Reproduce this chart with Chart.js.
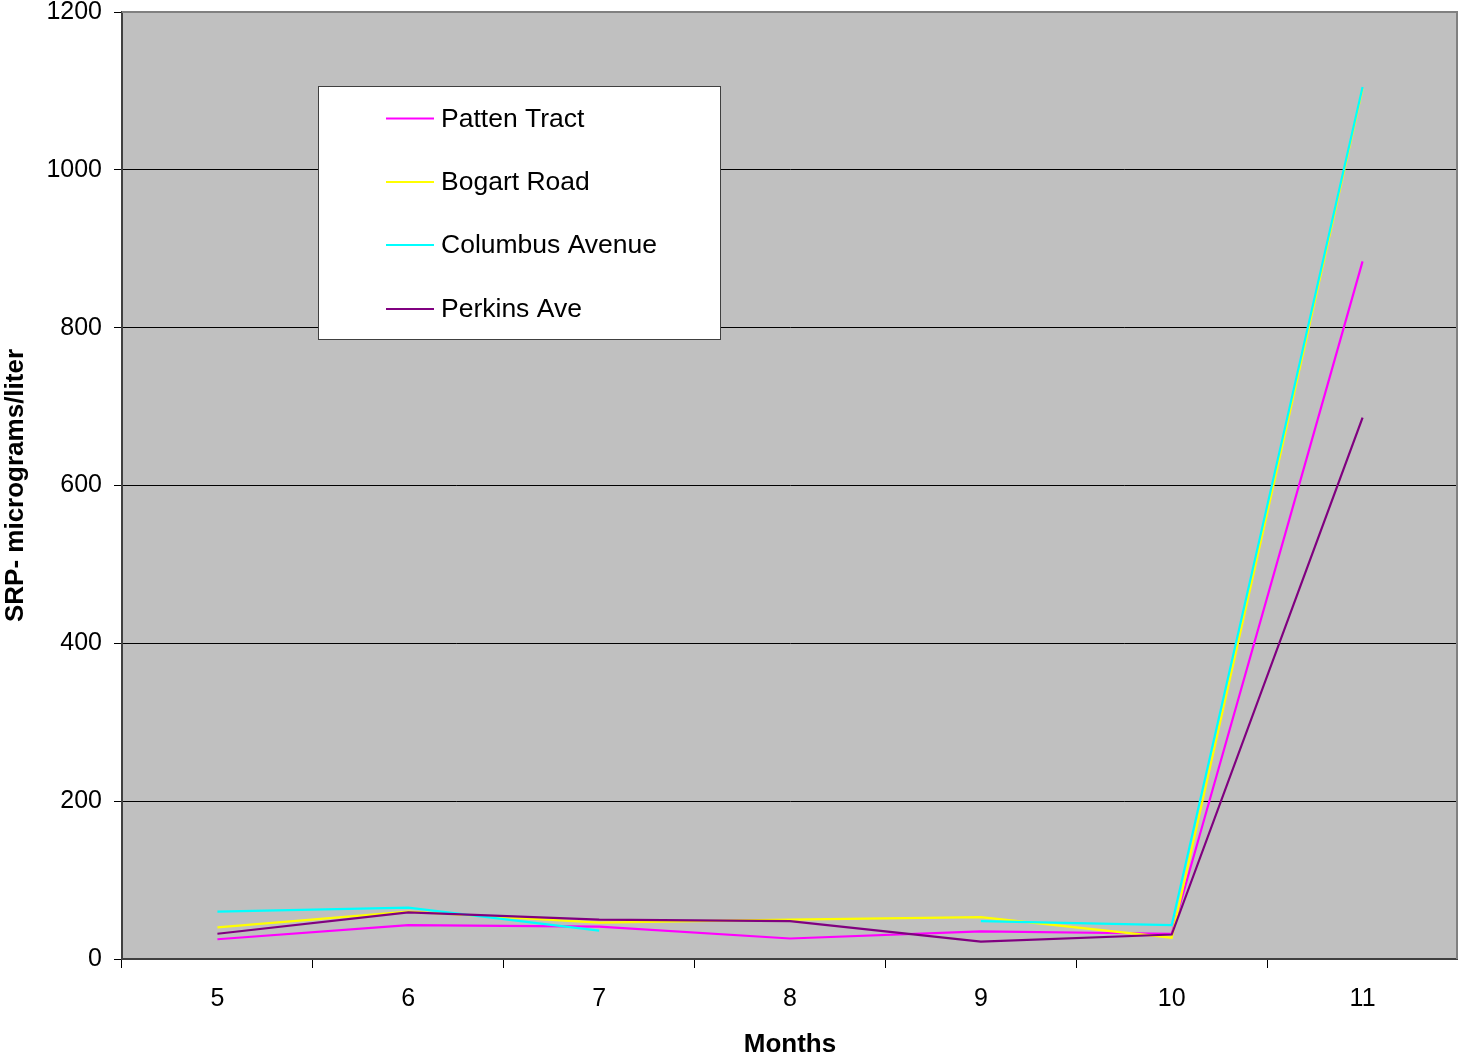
<!DOCTYPE html>
<html>
<head>
<meta charset="utf-8">
<script src="https://cdn.jsdelivr.net/npm/chart.js@4"></script>
<style>
html,body{margin:0;padding:0;background:#fff;}
#wrap{width:1458px;height:1057px;position:relative;}
</style>
</head>
<body>
<div id="wrap"><canvas id="c" width="1458" height="1057"></canvas></div>
<script>
const months = ['5', '6', '7', '8', '9', '10', '11'];
const pattenTract = [25, 43, 41, 26, 35, 32, 884];
const bogartRoad = [40, 60, 46, 50, 53, 27, 1103];
const columbusAvenue = [60, 65, 36, null, 48, 43, 1105];
const perkinsAve = [32, 59, 50, 48, 22, 31, 686];
const seriesNames = ['Patten Tract', 'Bogart Road', 'Columbus Avenue', 'Perkins Ave'];
const seriesColors = ['#FF00FF', '#FFFF00', '#00FFFF', '#800080'];
const seriesValues = [pattenTract, bogartRoad, columbusAvenue, perkinsAve];
const yTicks = [0, 200, 400, 600, 800, 1000, 1200];

const FONT = 'Liberation Sans, Arial, Helvetica, sans-serif';

const bgPlugin = {
  id: 'plotBg',
  beforeDraw(chart) {
    const {ctx, chartArea: a} = chart;
    ctx.save();
    ctx.fillStyle = '#C0C0C0';
    ctx.fillRect(a.left, a.top, a.right - a.left, a.bottom - a.top);
    ctx.restore();
  },
  afterDraw(chart) {
    const {ctx, chartArea: a} = chart;
    ctx.save();
    ctx.strokeStyle = '#808080';
    ctx.lineWidth = 2;
    ctx.beginPath();
    ctx.moveTo(a.left, a.top);
    ctx.lineTo(a.right - 1, a.top);
    ctx.lineTo(a.right - 1, a.bottom);
    ctx.stroke();
    // legend box
    const bx = 318.5, by = 86.5, bw = 402, bh = 253;
    ctx.fillStyle = '#FFFFFF';
    ctx.fillRect(bx, by, bw, bh);
    ctx.strokeStyle = '#404040';
    ctx.lineWidth = 1;
    ctx.strokeRect(bx, by, bw, bh);
    ctx.font = '26.5px ' + FONT;
    ctx.textBaseline = 'middle';
    ctx.textAlign = 'left';
    const rows = [118.5, 182, 245, 309];
    chart.data.datasets.forEach((ds, i) => {
      const y = rows[i];
      ctx.strokeStyle = ds.borderColor;
      ctx.lineWidth = 2;
      ctx.beginPath();
      ctx.moveTo(386, y);
      ctx.lineTo(434, y);
      ctx.stroke();
      ctx.fillStyle = '#000';
      ctx.fillText(ds.label, 441, y + 1);
    });
    ctx.restore();
  }
};

new Chart(document.getElementById('c'), {
  type: 'line',
  data: {
    labels: months,
    datasets: seriesNames.map((name, i) => ({
      label: name,
      data: seriesValues[i],
      borderColor: seriesColors[i],
      backgroundColor: seriesColors[i],
      borderWidth: 2.2,
      pointRadius: 0,
      pointHoverRadius: 0,
      tension: 0,
      spanGaps: false,
      fill: false,
      order: 3 - i
    }))
  },
  options: {
    responsive: false,
    animation: false,
    devicePixelRatio: 1,
    layout: {padding: {top: 12, right: 0, left: 0, bottom: 0}},
    plugins: {legend: {display: false}, tooltip: {enabled: false}},
    scales: {
      x: {
        type: 'category',
        offset: true,
        grid: {offset: true, drawOnChartArea: false, drawTicks: true, tickLength: 9, color: '#000', lineWidth: 1},
        border: {color: '#404040', width: 2},
        ticks: {font: {family: FONT, size: 25}, color: '#000', padding: 16, maxRotation: 0},
        title: {display: true, text: 'Months', font: {family: FONT, size: 26, weight: 'bold'}, color: '#000', padding: {top: 0, bottom: -3}},
        afterFit(s) { s.height = 98; s.paddingLeft = 0; s.paddingRight = 0; }
      },
      y: {
        min: 0, max: 1200,
        afterBuildTicks(s) { s.ticks = yTicks.map(v => ({value: v})); },
        grid: {drawOnChartArea: true, drawTicks: true, tickLength: 8, color: '#000', lineWidth: 1},
        border: {color: '#404040', width: 2},
        ticks: {font: {family: FONT, size: 25}, color: '#000', padding: 12, callback: v => String(v)},
        title: {display: true, text: 'SRP- micrograms/liter', font: {family: FONT, size: 26, weight: 'bold'}, color: '#000', padding: {top: 0, bottom: 0}},
        afterFit(s) { s.width = 122; s.paddingTop = 0; s.paddingBottom = 0; }
      }
    }
  },
  plugins: [bgPlugin]
});
</script>
</body>
</html>
